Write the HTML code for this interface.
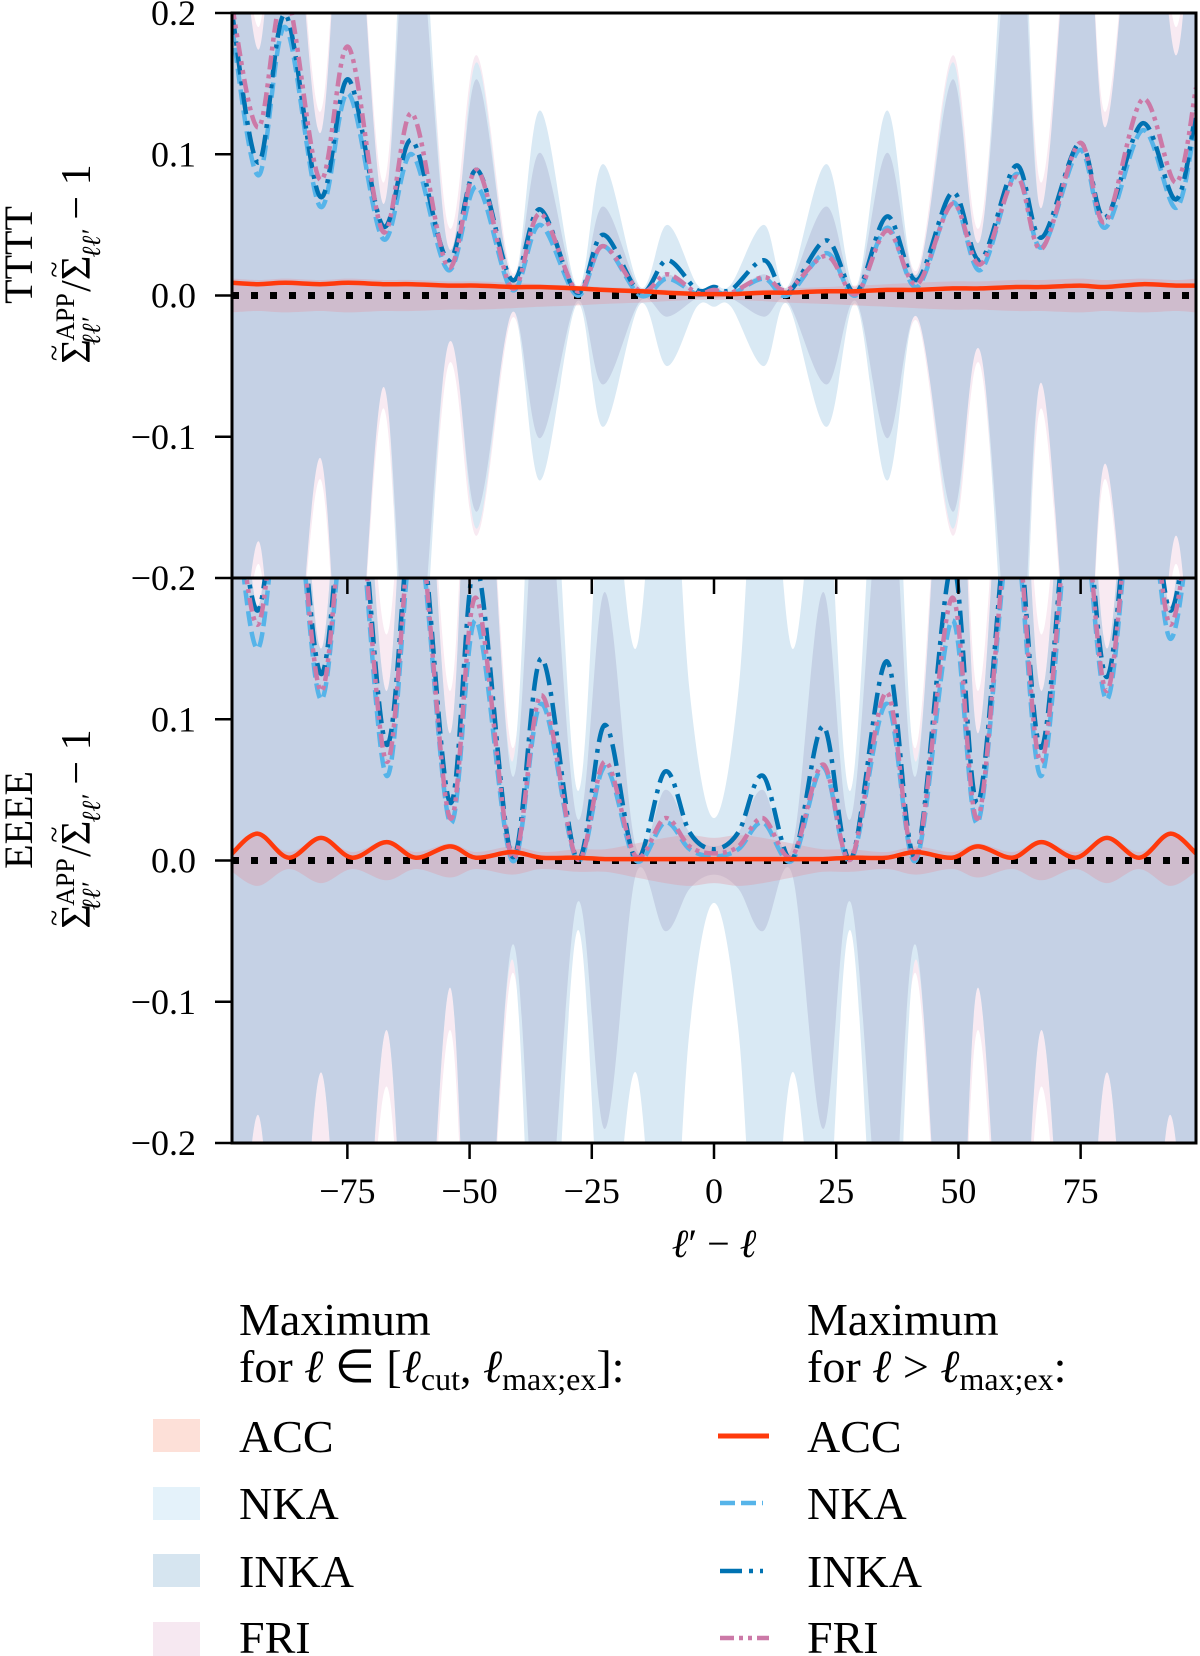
<!DOCTYPE html>
<html><head><meta charset="utf-8"><style>
html,body{margin:0;padding:0;background:#fff;}
svg{display:block;font-family:"Liberation Serif",serif;}
</style></head><body>
<svg id="chart" width="1200" height="1656" viewBox="0 0 1200 1656" xmlns="http://www.w3.org/2000/svg">
<defs>
<clipPath id="clipTop"><rect x="232" y="13" width="964" height="565"/></clipPath>
<clipPath id="clipBot"><rect x="232" y="578" width="964" height="565"/></clipPath>
</defs>
<g id="topBands" clip-path="url(#clipTop)"></g>
<g id="topLines" clip-path="url(#clipTop)"></g>
<g id="botBands" clip-path="url(#clipBot)"></g>
<g id="botLines" clip-path="url(#clipBot)"></g>
<g id="axes"></g>

<text transform="translate(32,255) rotate(-90)" text-anchor="middle" font-size="40">TTTT</text>
<text transform="translate(90,264) rotate(-90)" text-anchor="middle" font-size="42">Σ<tspan font-size="30" dx="-22" dy="-26">~</tspan><tspan font-size="26" dx="4" dy="10">APP</tspan><tspan font-size="26" font-style="italic" dx="-52" dy="26">ℓℓ′</tspan><tspan dx="26" dy="-10">/Σ</tspan><tspan font-size="30" dx="-22" dy="-26">~</tspan><tspan font-size="26" font-style="italic" dx="4" dy="36">ℓℓ′</tspan><tspan dy="-10"> − 1</tspan></text>
<text transform="translate(32,820) rotate(-90)" text-anchor="middle" font-size="40">EEEE</text>
<text transform="translate(90,829) rotate(-90)" text-anchor="middle" font-size="42">Σ<tspan font-size="30" dx="-22" dy="-26">~</tspan><tspan font-size="26" dx="4" dy="10">APP</tspan><tspan font-size="26" font-style="italic" dx="-52" dy="26">ℓℓ′</tspan><tspan dx="26" dy="-10">/Σ</tspan><tspan font-size="30" dx="-22" dy="-26">~</tspan><tspan font-size="26" font-style="italic" dx="4" dy="36">ℓℓ′</tspan><tspan dy="-10"> − 1</tspan></text>
<text x="714" y="1257" text-anchor="middle" font-size="40"><tspan font-style="italic">ℓ</tspan>′ − <tspan font-style="italic">ℓ</tspan></text>

<g font-size="46">
<text x="239" y="1335">Maximum</text>
<text x="239" y="1382">for <tspan font-style="italic">ℓ</tspan> ∈ [<tspan font-style="italic">ℓ</tspan><tspan font-size="32" dy="8">cut</tspan><tspan dy="-8">, </tspan><tspan font-style="italic">ℓ</tspan><tspan font-size="32" dy="8">max;ex</tspan><tspan dy="-8">]:</tspan></text>
<text x="807" y="1335">Maximum</text>
<text x="807" y="1382">for <tspan font-style="italic">ℓ</tspan> &gt; <tspan font-style="italic">ℓ</tspan><tspan font-size="32" dy="8">max;ex</tspan><tspan dy="-8">:</tspan></text>
<g><rect x="153" y="1419" width="47" height="33" fill="#fde0d8"/><text x="239" y="1452">ACC</text></g>
<g><rect x="153" y="1487" width="47" height="33" fill="#e4f2fa"/><text x="239" y="1519">NKA</text></g>
<g><rect x="153" y="1554" width="47" height="33" fill="#d6e5f0"/><text x="239" y="1587">INKA</text></g>
<g><rect x="153" y="1622" width="47" height="34" fill="#f6e8f1"/><text x="239" y="1653">FRI</text></g>
<g><line x1="718" y1="1436" x2="769" y2="1436" stroke="#ff3a0c" stroke-width="5"/><text x="807" y="1452">ACC</text></g>
<g><line x1="720" y1="1503" x2="763" y2="1503" stroke="#56b4e9" stroke-width="4.5" stroke-dasharray="15 6"/><text x="807" y="1519">NKA</text></g>
<g><line x1="720" y1="1571" x2="763" y2="1571" stroke="#0072b2" stroke-width="4.5" stroke-dasharray="22 7 4 7"/><text x="807" y="1587">INKA</text></g>
<g><line x1="720" y1="1638" x2="769" y2="1638" stroke="#cc79a7" stroke-width="4.5" stroke-dasharray="14 5 4 5 4 5"/><text x="807" y="1653">FRI</text></g>
</g>
</svg>
<script>
// ---- TTTT panel data ----
const topNodes = [-98.6,-93.2,-87.7,-80.6,-74.8,-67.7,-61.8,-54.4,-48.5,-41.3,-35.6,-28,-22.7,-15.1,-9.6,-3.5,0,3.5,10.2,15,23,29,35.4,41.5,48.8,54.5,61.8,67,74.8,80,87.7,94.5,98.6];
const topINKA = [0.200,0.094,0.199,0.070,0.153,0.049,0.110,0.025,0.089,0.011,0.061,0.002,0.043,0.002,0.025,0.004,0.006,0.004,0.025,0.002,0.039,0.002,0.056,0.011,0.073,0.025,0.092,0.041,0.108,0.055,0.122,0.068,0.131];
const topNKA = [0.190,0.085,0.190,0.063,0.143,0.040,0.100,0.018,0.077,0.004,0.050,0.000,0.035,0.000,0.012,0.001,0.003,0.001,0.012,0.000,0.030,0.000,0.048,0.006,0.066,0.018,0.086,0.034,0.103,0.048,0.117,0.062,0.125];
const topFRI = [0.205,0.119,0.215,0.082,0.176,0.045,0.129,0.020,0.089,0.005,0.058,0.003,0.035,0.003,0.015,0.002,0.004,0.002,0.013,0.004,0.028,0.001,0.046,0.008,0.065,0.022,0.084,0.033,0.108,0.052,0.139,0.080,0.147];
const topACC = [0.009,0.008,0.009,0.008,0.009,0.008,0.008,0.007,0.007,0.006,0.006,0.005,0.004,0.003,0.002,0.001,0.001,0.001,0.002,0.002,0.003,0.003,0.004,0.004,0.005,0.005,0.006,0.006,0.007,0.006,0.008,0.007,0.007];
const topBandINKA = [0.35,0.174,0.35,0.115,0.35,0.065,0.30,0.035,0.153,0.012,0.101,0.004,0.063,0.004,0.015,0.002,0.002,0.002,0.015,0.004,0.063,0.004,0.101,0.015,0.153,0.040,0.30,0.062,0.35,0.119,0.35,0.17,0.35];
const topBandNKA = [0.35,0.170,0.35,0.105,0.35,0.055,0.35,0.030,0.165,0.010,0.131,0.006,0.093,0.006,0.050,0.008,0.008,0.008,0.050,0.006,0.093,0.006,0.131,0.012,0.165,0.035,0.35,0.058,0.35,0.110,0.35,0.165,0.35];
const topBandFRI = [0.35,0.190,0.35,0.130,0.35,0.080,0.32,0.050,0.170,0.016,0.110,0.006,0.070,0.006,0.020,0.003,0.003,0.003,0.020,0.006,0.070,0.006,0.110,0.018,0.170,0.050,0.32,0.080,0.35,0.130,0.35,0.190,0.35];
const topBandACC = [0.012,0.011,0.012,0.011,0.012,0.011,0.011,0.010,0.010,0.009,0.008,0.007,0.006,0.005,0.004,0.003,0.003,0.003,0.004,0.005,0.006,0.007,0.008,0.009,0.010,0.010,0.011,0.011,0.012,0.011,0.012,0.011,0.012];
// ---- EEEE panel data ----
const botNodes = [-98.6,-93.3,-87,-80.4,-74,-67,-61,-54,-48.7,-41.3,-35.3,-28,-22.3,-16,-10,-5,0,5,10,16,22.3,28,35.3,41.3,48.7,54,61,67,74,80.4,87,93.3,98.6];
const botINKA = [0.30,0.177,0.32,0.132,0.30,0.082,0.26,0.041,0.210,0.003,0.143,0.001,0.096,0.001,0.063,0.020,0.008,0.020,0.060,0.001,0.095,0.001,0.141,0.003,0.210,0.041,0.26,0.080,0.30,0.130,0.32,0.177,0.30];
const botNKA = [0.28,0.150,0.30,0.114,0.28,0.060,0.24,0.027,0.170,0.000,0.111,0.000,0.066,0.000,0.027,0.008,0.003,0.008,0.027,0.000,0.066,0.000,0.111,0.000,0.170,0.027,0.24,0.060,0.28,0.114,0.30,0.157,0.28];
const botFRI = [0.29,0.167,0.31,0.120,0.29,0.070,0.25,0.030,0.186,0.002,0.117,0.001,0.070,0.003,0.030,0.010,0.005,0.010,0.030,0.003,0.068,0.001,0.119,0.002,0.186,0.030,0.25,0.070,0.29,0.120,0.31,0.167,0.29];
const botACC = [0.005,0.019,0.002,0.016,0.002,0.013,0.002,0.010,0.002,0.006,0.002,0.002,0.001,0.001,0.001,0.001,0.001,0.001,0.001,0.001,0.001,0.002,0.002,0.006,0.002,0.010,0.002,0.013,0.002,0.016,0.002,0.019,0.005];
const botBandINKA = [0.40,0.18,0.40,0.15,0.40,0.12,0.40,0.09,0.40,0.06,0.30,0.03,0.19,0.01,0.05,0.02,0.01,0.02,0.05,0.01,0.19,0.03,0.30,0.06,0.40,0.09,0.40,0.12,0.40,0.15,0.40,0.18,0.40];
const botBandNKA = [0.40,0.18,0.40,0.15,0.40,0.12,0.40,0.09,0.40,0.07,0.40,0.05,0.30,0.15,0.35,0.12,0.03,0.12,0.35,0.15,0.30,0.05,0.40,0.07,0.40,0.09,0.40,0.12,0.40,0.15,0.40,0.18,0.40];
const botBandFRI = [0.40,0.20,0.40,0.20,0.40,0.16,0.40,0.12,0.40,0.08,0.32,0.05,0.21,0.03,0.06,0.03,0.015,0.03,0.06,0.03,0.21,0.05,0.32,0.08,0.40,0.12,0.40,0.16,0.40,0.20,0.40,0.20,0.40];
const botBandACC = [0.008,0.018,0.006,0.016,0.006,0.014,0.006,0.012,0.006,0.010,0.006,0.008,0.008,0.012,0.016,0.018,0.016,0.018,0.016,0.012,0.008,0.008,0.006,0.010,0.006,0.012,0.006,0.014,0.006,0.016,0.006,0.018,0.008];
const xTicks = [-75,-50,-25,0,25,50,75];
const xTickLabels = ["−75","−50","−25","0","25","50","75"];
const topYTicks = [0.2,0.1,0.0,-0.1,-0.2];
const topYTickLabels = ["0.2","0.1","0.0","−0.1","−0.2"];
const botYTicks = [0.1,0.0,-0.1,-0.2];
const botYTickLabels = ["0.1","0.0","−0.1","−0.2"];

const NS="http://www.w3.org/2000/svg";
const X0=232,X1=1196,XMIN=-98.6,XMAX=98.6;
const xS=v=>X0+(v-XMIN)/(XMAX-XMIN)*(X1-X0);
const yTop=v=>295.5-v*1412.5;
const yBot=v=>860.5-v*1412.5;
function segs(p){let d="";for(let i=0;i<p.length-1;i++){const a=p[Math.max(i-1,0)],b=p[i],c=p[i+1],e=p[Math.min(i+2,p.length-1)];
d+=` C${(b[0]+(c[0]-a[0])/6).toFixed(1)},${(b[1]+(c[1]-a[1])/6).toFixed(1)} ${(c[0]-(e[0]-b[0])/6).toFixed(1)},${(c[1]-(e[1]-b[1])/6).toFixed(1)} ${c[0].toFixed(1)},${c[1].toFixed(1)}`;}return d;}
function linePath(nodes,vals,yf){const p=nodes.map((n,i)=>[xS(n),yf(vals[i])]);return `M${p[0][0]},${p[0][1]}`+segs(p);}
function bandPath(nodes,u,yf){const up=nodes.map((n,i)=>[xS(n),yf(u[i])]);const lo=nodes.map((n,i)=>[xS(n),yf(-u[i])]).reverse();
return `M${up[0][0]},${up[0][1]}`+segs(up)+` L${lo[0][0]},${lo[0][1]}`+segs(lo)+"Z";}
function mk(tag,attrs,parent){const e=document.createElementNS(NS,tag);for(const k in attrs)e.setAttribute(k,attrs[k]);parent.appendChild(e);return e;}

function panel(bandsG,linesG,nodes,yf,bands,lines,pfx){
  const bandStyles=[["fri",bands.fri,"#f8eaf2"],["nka",bands.nka,"#d9e9f4"],["inka",bands.inka,"#c5d1e5"],["acc",bands.acc,"rgba(225,150,160,0.35)"]];
  for(const [n,u,c] of bandStyles){const e=mk("path",{d:bandPath(nodes,u,yf),fill:c},bandsG);
    
    }
  const z=mk("line",{x1:X0,x2:X1,y1:yf(0),y2:yf(0),stroke:"#000","stroke-width":7,"stroke-dasharray":"7 12"},linesG);
  
  
  const ls=[["nka",lines.nka,"#56b4e9","15 6"],["inka",lines.inka,"#0072b2","22 7 4 7"],["fri",lines.fri,"#cc79a7","14 5 4 5 4 5"],["acc",lines.acc,"#ff3a0c",""]];
  for(const [n,v,c,da] of ls){const a={d:linePath(nodes,v,yf),fill:"none",stroke:c,"stroke-width":4.5};if(da)a["stroke-dasharray"]=da;
    const e=mk("path",a,linesG);
    
    }
}
panel(document.getElementById("topBands"),document.getElementById("topLines"),topNodes,yTop,
 {nka:topBandNKA,inka:topBandINKA,fri:topBandFRI,acc:topBandACC},{nka:topNKA,inka:topINKA,fri:topFRI,acc:topACC},"tttt");
panel(document.getElementById("botBands"),document.getElementById("botLines"),botNodes,yBot,
 {nka:botBandNKA,inka:botBandINKA,fri:botBandFRI,acc:botBandACC},{nka:botNKA,inka:botINKA,fri:botFRI,acc:botACC},"eeee");

const ax=document.getElementById("axes");
for(const [y0,y1,nm] of [[13,578,"tttt"],[578,1143,"eeee"]]){
  const r=mk("rect",{x:X0,y:y0,width:X1-X0,height:y1-y0,fill:"none",stroke:"#000","stroke-width":3},ax);
  
  
}
xTicks.forEach((t,i)=>{
  for(const yb of [578,1143]){const l=mk("line",{x1:xS(t),x2:xS(t),y1:yb,y2:yb+16,stroke:"#000","stroke-width":2.5},ax);
    
    }
  const tx=mk("text",{x:xS(t),y:1203,"text-anchor":"middle","font-size":36},ax);tx.textContent=xTickLabels[i];
  
  
});
function yt(ticks,labels,yf,nm){ticks.forEach((t,i)=>{
  const l=mk("line",{x1:X0-17,x2:X0,y1:yf(t),y2:yf(t),stroke:"#000","stroke-width":2.5},ax);
  
  
  const tx=mk("text",{x:196,y:yf(t)+12,"text-anchor":"end","font-size":36},ax);tx.textContent=labels[i];
  
  
});}
yt(topYTicks,topYTickLabels,yTop,"tttt");
yt(botYTicks,botYTickLabels,yBot,"eeee");
</script>
</body></html>
